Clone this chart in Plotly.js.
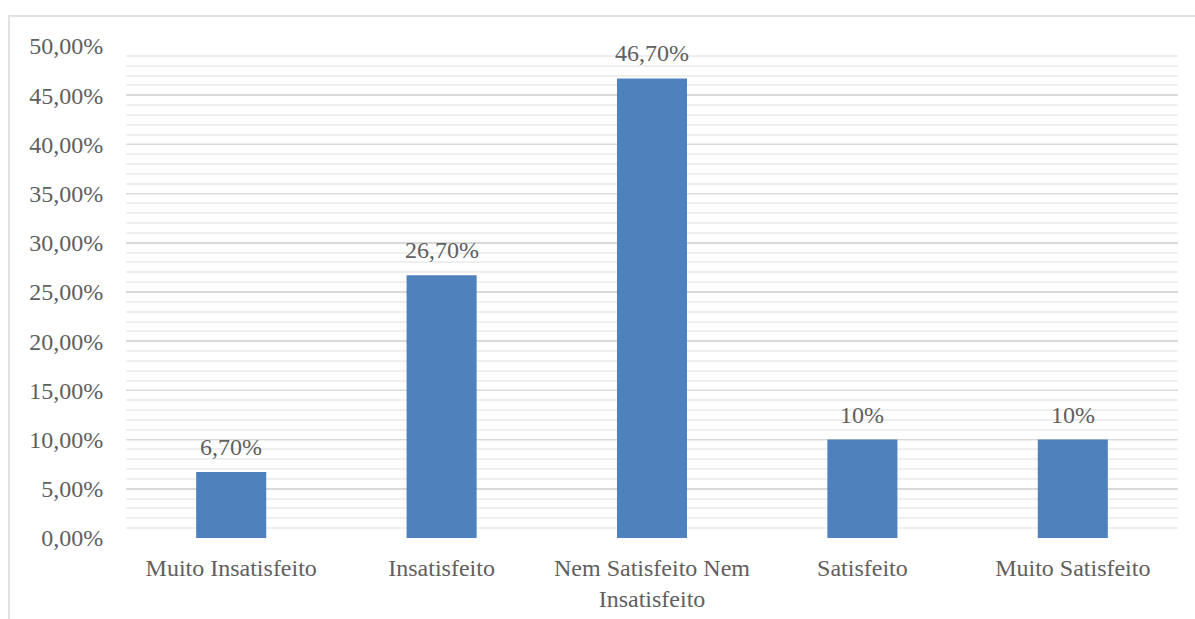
<!DOCTYPE html>
<html>
<head>
<meta charset="utf-8">
<script src="https://cdn.plot.ly/plotly-3.0.1.min.js"></script>
<style>
  html, body { margin: 0; padding: 0; background: #fff; }
  #chart { width: 1195px; height: 619px; }
</style>
</head>
<body>
<div id="chart"></div>
<script>
// Satisfaction levels and their share of responses (%)
const categories = [
  'Muito Insatisfeito',
  'Insatisfeito',
  'Nem Satisfeito Nem<br>Insatisfeito',
  'Satisfeito',
  'Muito Satisfeito'
];
const shares = [6.7, 26.7, 46.7, 10, 10];
const shareLabels = ['6,70%', '26,70%', '46,70%', '10%', '10%'];

const yTickValues = [0, 5, 10, 15, 20, 25, 30, 35, 40, 45, 50];
const yTickLabels = ['0,00%', '5,00%', '10,00%', '15,00%', '20,00%', '25,00%',
                     '30,00%', '35,00%', '40,00%', '45,00%', '50,00%'];

const textFont = { family: 'Liberation Serif, Times New Roman, serif', size: 24, color: '#606060' };

const trace = {
  type: 'bar',
  x: categories,
  y: shares,
  marker: { color: '#4F81BD', line: { width: 0 } },
  hoverinfo: 'skip'
};

// value labels sitting above each bar
const labelNotes = categories.map((c, i) => ({
  x: c,
  y: shares[i],
  xref: 'x',
  yref: 'y',
  text: shareLabels[i],
  showarrow: false,
  yanchor: 'bottom',
  yshift: 10,
  font: textFont
}));

const layout = {
  width: 1195,
  height: 619,
  margin: { l: 126, r: 17, t: 46, b: 81 },
  paper_bgcolor: '#ffffff',
  plot_bgcolor: '#ffffff',
  showlegend: false,
  bargap: 0.667,
  font: textFont,
  xaxis: {
    type: 'category',
    showgrid: false,
    zeroline: false,
    showline: false,
    ticks: 'outside',
    ticklen: 8,
    tickcolor: 'rgba(0,0,0,0)',
    tickfont: textFont
  },
  yaxis: {
    range: [0, 50],
    tickvals: yTickValues,
    ticktext: yTickLabels,
    showgrid: true,
    gridcolor: '#D9D9D9',
    gridwidth: 1.5,
    zeroline: false,
    showline: false,
    ticks: 'outside',
    ticklen: 17,
    tickcolor: 'rgba(0,0,0,0)',
    tickfont: textFont,
    minor: {
      dtick: 1,
      showgrid: true,
      gridcolor: '#EFEFEF',
      gridwidth: 2
    }
  },
  annotations: labelNotes,
  shapes: [{
    type: 'rect',
    xref: 'paper', yref: 'paper',
    x0: -0.1112, x1: 1.2,
    y0: -0.3, y1: 1.061,
    line: { color: '#D9D9D9', width: 1.5 },
    fillcolor: 'rgba(0,0,0,0)',
    layer: 'below'
  }]
};

Plotly.newPlot('chart', [trace], layout, { displayModeBar: false, staticPlot: true });
</script>
</body>
</html>
